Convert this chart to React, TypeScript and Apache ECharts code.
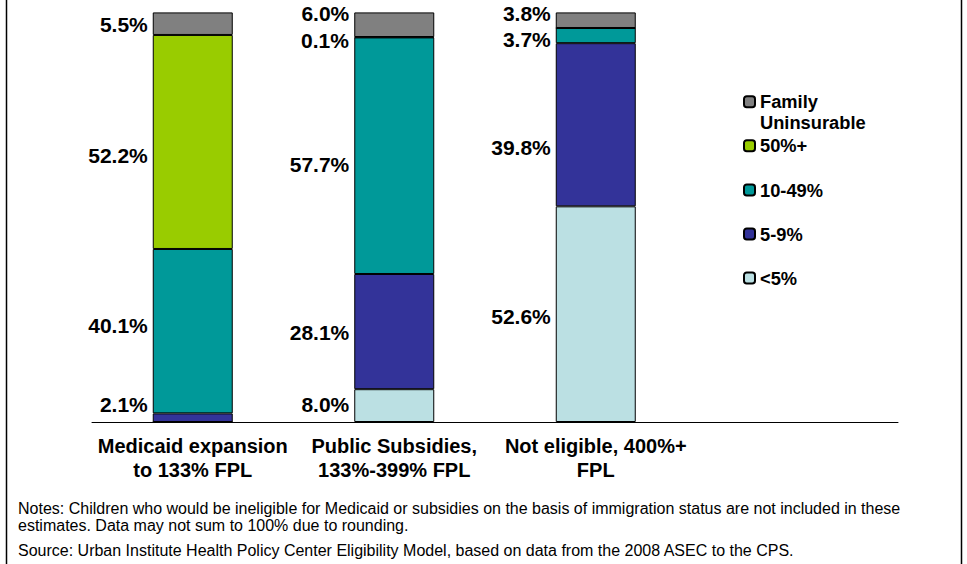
import { useEffect, useRef } from 'react';
import * as echarts from 'echarts';

// ---- Data ----
const categories = [
  'Medicaid expansion\nto 133% FPL',
  'Public Subsidies,\n133%-399% FPL',
  'Not eligible, 400%+\nFPL',
  '',
];
const lessThan5 = [0, 8.0, 52.6];
const from5to9 = [2.1, 28.1, 39.8];
const from10to49 = [40.1, 57.7, 3.7];
const fiftyPlus = [52.2, 0.1, 0];
const familyUninsurable = [5.5, 6.0, 3.8];

const legendOrder = ['Family Uninsurable', '50%+', '10-49%', '5-9%', '<5%'];
const noteLines = [
  'Notes: Children who would be ineligible for Medicaid or subsidies on the basis of immigration status are not included in these',
  'estimates. Data may not sum to 100% due to rounding.',
];
const sourceLine =
  'Source: Urban Institute Health Policy Center Eligibility Model, based on data from the 2008 ASEC to the CPS.';

// ---- Styles ----
const FONT = '"Liberation Sans", Arial, Helvetica, sans-serif';
const seriesDefs = [
  { name: '<5%', values: lessThan5, color: '#BBE0E3' },
  { name: '5-9%', values: from5to9, color: '#333399' },
  { name: '10-49%', values: from10to49, color: '#009999' },
  { name: '50%+', values: fiftyPlus, color: '#99CC00' },
  { name: 'Family Uninsurable', values: familyUninsurable, color: '#808080' },
];
// vertical nudges of the value labels (px), as in the original slide
const labelNudge: Record<string, number[]> = {
  '<5%': [0, -1, 2],
  '5-9%': [-13, 1, 23],
  '10-49%': [-6, 9, 4],
  '50%+': [14, 3, 0],
  'Family Uninsurable': [1, -11, -7],
};
const legendCenters = [101.7, 145.7, 190, 234, 278];
const LEGEND_LH = 21.3;

export default function App() {
  const ref = useRef<HTMLDivElement>(null);
  useEffect(() => {
    document.body.style.margin = '0';
    const chart = echarts.init(ref.current!, undefined, { renderer: 'svg' });
    const series = seriesDefs.map((s) => ({
      name: s.name,
      type: 'bar',
      stack: 'total',
      barWidth: 80,
      itemStyle: { color: s.color, borderColor: '#000', borderWidth: 1 },
      label: {
        show: true,
        position: 'left',
        distance: 5,
        color: '#000',
        fontSize: 21,
        fontWeight: 'bold',
        fontFamily: FONT,
        formatter: (p: any) => (p.value ? Number(p.value).toFixed(1) + '%' : ''),
      },
      data: s.values.map((v, i) => ({
        value: v,
        label: { offset: [0, labelNudge[s.name][i]] },
      })),
    }));
    const legends = legendOrder.map((name, i) => {
      const isFamily = name === 'Family Uninsurable';
      return {
        data: [name],
        orient: 'vertical',
        left: 743,
        top: isFamily ? legendCenters[i] - 1.5 * LEGEND_LH : legendCenters[i] - LEGEND_LH / 2,
        padding: 0,
        itemWidth: 11,
        itemHeight: 11,
        itemGap: 0,
        selectedMode: false,
        formatter: isFamily ? () => ' \nFamily\nUninsurable' : undefined,
        textStyle: {
          fontSize: 18.3,
          fontWeight: 'bold',
          color: '#000',
          fontFamily: FONT,
          lineHeight: LEGEND_LH,
        },
      };
    });
    chart.setOption({
      animation: false,
      backgroundColor: '#fff',
      grid: { left: 92, right: 69, top: 12, bottom: 142 },
      xAxis: {
        type: 'category',
        data: categories,
        axisLine: { show: true, lineStyle: { color: '#000', width: 1 } },
        axisTick: { show: false },
        axisLabel: {
          interval: 0,
          color: '#000',
          fontSize: 20,
          fontWeight: 'bold',
          fontFamily: FONT,
          lineHeight: 24,
          margin: 12,
        },
      },
      yAxis: { type: 'value', min: 0, max: 100, show: false },
      legend: legends,
      series,
      graphic: [
        { type: 'line', shape: { x1: 6.5, y1: 0, x2: 6.5, y2: 564 }, style: { stroke: '#000', lineWidth: 1.5 } },
        { type: 'line', shape: { x1: 961.5, y1: 0, x2: 961.5, y2: 564 }, style: { stroke: '#000', lineWidth: 1.5 } },
        ...noteLines.map((t, i) => ({
          type: 'text',
          x: 18,
          y: 508 + i * 17.5,
          style: { text: t, fill: '#000', font: `16px ${FONT}`, verticalAlign: 'middle' },
        })),
        {
          type: 'text',
          x: 18,
          y: 550,
          style: { text: sourceLine, fill: '#000', font: `16px ${FONT}`, verticalAlign: 'middle' },
        },
      ],
    });
    return () => chart.dispose();
  }, []);
  return <div ref={ref} style={{ width: 967, height: 564 }} />;
}
